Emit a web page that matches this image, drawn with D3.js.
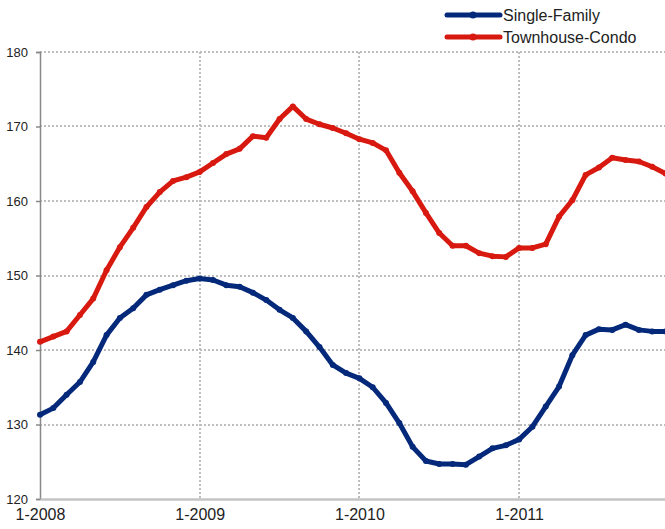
<!DOCTYPE html>
<html><head><meta charset="utf-8">
<script src="https://cdn.jsdelivr.net/npm/d3@7"></script>
<style>body{margin:0;background:#fff}svg{display:block}text{font-family:"Liberation Sans",Arial,Helvetica,sans-serif;fill:#222}</style>
</head><body><svg id="c" width="665" height="529"></svg>
<script>
const months = d3.range(48); // Jan 2008 .. Dec 2011
const xTickIdx = [0, 12, 24, 36];
const xTickLabels = ["1-2008", "1-2009", "1-2010", "1-2011"];
const yTicks = [120, 130, 140, 150, 160, 170, 180];
const seriesNames = ["Single-Family", "Townhouse-Condo"];
const singleFamily = [131.3,132.2,134.0,135.7,138.4,142.0,144.3,145.6,147.4,148.1,148.7,149.3,
  149.6,149.4,148.7,148.5,147.7,146.7,145.4,144.3,142.5,140.4,138.0,136.9,
  136.2,135.0,132.9,130.2,127.0,125.1,124.7,124.7,124.6,125.7,126.8,127.2,
  128.0,129.7,132.4,135.1,139.3,142.0,142.8,142.7,143.4,142.7,142.5,142.5];
const townhouseCondo = [141.1,141.8,142.5,144.7,146.9,150.7,153.8,156.4,159.2,161.2,162.7,163.2,
  163.9,165.1,166.3,167.0,168.7,168.5,171.0,172.7,171.0,170.3,169.8,169.1,
  168.3,167.8,166.8,163.8,161.3,158.4,155.7,154.0,154.0,153.0,152.6,152.5,
  153.7,153.7,154.2,157.9,160.1,163.5,164.5,165.8,165.5,165.3,164.6,163.7];
const colors = ["#04297a", "#d8190f"];

const svg = d3.select("#c");
const x = d3.scaleLinear().domain([0, 47]).range([40, 665.5]);
const y = d3.scaleLinear().domain([120, 180]).range([499, 52]);

// grid
const grid = svg.append("g");
grid.selectAll("line.h").data(yTicks.filter(d => d > 120)).join("line")
  .attr("x1", 40).attr("x2", 665).attr("y1", d => Math.round(y(d))).attr("y2", d => Math.round(y(d)))
  .attr("stroke", "#bdbdbd").attr("stroke-width", 2).attr("stroke-dasharray", "2,2");
grid.selectAll("line.v").data(xTickIdx.slice(1)).join("line")
  .attr("x1", d => Math.round(x(d))).attr("x2", d => Math.round(x(d))).attr("y1", 52).attr("y2", 499)
  .attr("stroke", "#bdbdbd").attr("stroke-width", 2).attr("stroke-dasharray", "2,2");

// y axis
const yAxis = svg.append("g").attr("transform", "translate(40,0)")
  .call(d3.axisLeft(y).tickValues(yTicks).tickSize(4).tickPadding(8));
yAxis.select(".domain").attr("stroke", "#888").attr("stroke-width", 1.5);
yAxis.selectAll(".tick line").attr("stroke", "#888").attr("stroke-width", 1.5);
yAxis.selectAll("text").attr("font-size", 13).attr("fill", "#222");

// x axis
const xAxis = svg.append("g").attr("transform", "translate(0,499)")
  .call(d3.axisBottom(x).tickValues(xTickIdx).tickFormat((d, i) => xTickLabels[i]).tickSize(0).tickPadding(10));
xAxis.select(".domain").attr("stroke", "#c4c4c4").attr("stroke-width", 2.5);
xAxis.selectAll("text").attr("font-size", 16).attr("fill", "#222");

// lines
const line = d3.line().x((d, i) => x(months[i])).y(d => y(d));
[singleFamily, townhouseCondo].forEach((s, k) => {
  svg.append("path").datum(s).attr("d", line).attr("fill", "none")
    .attr("stroke", colors[k]).attr("stroke-width", 5).attr("stroke-linejoin", "round");
  svg.append("g").selectAll("circle").data(s).join("circle")
    .attr("cx", (d, i) => x(months[i])).attr("cy", d => y(d)).attr("r", 3).attr("fill", colors[k]);
});

// legend
const lg = svg.append("g");
seriesNames.forEach((n, k) => {
  const ly = 15 + k * 22;
  lg.append("line").attr("x1", 447).attr("x2", 500).attr("y1", ly).attr("y2", ly)
    .attr("stroke", colors[k]).attr("stroke-width", 5).attr("stroke-linecap", "round");
  lg.append("circle").attr("cx", 473).attr("cy", ly).attr("r", 3.5).attr("fill", colors[k]);
  lg.append("text").attr("x", 503).attr("y", ly + 5.5).attr("font-size", 16).text(n);
});
</script></body></html>
